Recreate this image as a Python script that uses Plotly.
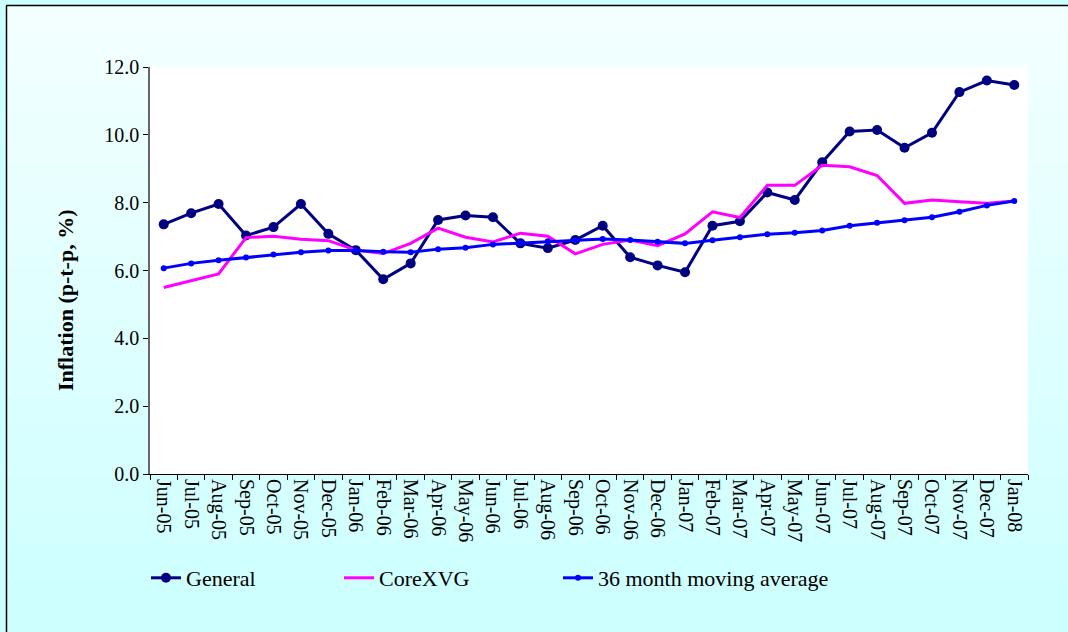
import plotly.graph_objects as go

months = ["Jun-05","Jul-05","Aug-05","Sep-05","Oct-05","Nov-05","Dec-05","Jan-06","Feb-06","Mar-06",
          "Apr-06","May-06","Jun-06","Jul-06","Aug-06","Sep-06","Oct-06","Nov-06","Dec-06","Jan-07",
          "Feb-07","Mar-07","Apr-07","May-07","Jun-07","Jul-07","Aug-07","Sep-07","Oct-07","Nov-07",
          "Dec-07","Jan-08"]

general = [7.36, 7.69, 7.96, 7.03, 7.28, 7.96, 7.08, 6.60, 5.74, 6.21,
           7.49, 7.62, 7.57, 6.80, 6.66, 6.90, 7.32, 6.39, 6.15, 5.95,
           7.32, 7.45, 8.30, 8.08, 9.19, 10.10, 10.14, 9.62, 10.06, 11.26,
           11.60, 11.47]

core = [5.50, 5.69, 5.90, 6.97, 7.01, 6.92, 6.88, 6.60, 6.50, 6.80,
        7.25, 6.98, 6.84, 7.10, 7.01, 6.49, 6.77, 6.90, 6.73, 7.08,
        7.73, 7.56, 8.51, 8.51, 9.10, 9.06, 8.80, 7.98, 8.08, 8.03,
        7.98, 8.05]

ma36 = [6.07, 6.21, 6.30, 6.38, 6.47, 6.54, 6.59, 6.59, 6.55, 6.54,
        6.63, 6.67, 6.77, 6.81, 6.86, 6.89, 6.93, 6.90, 6.85, 6.80,
        6.89, 6.98, 7.07, 7.11, 7.18, 7.32, 7.41, 7.48, 7.57, 7.73,
        7.92, 8.05]

yticks = [0, 2, 4, 6, 8, 10, 12]
y_title = "Inflation (p-t-p, %)"

FONT = "Liberation Serif"

fig = go.Figure()
fig.add_trace(go.Scatter(x=months, y=general, name="General", mode="lines+markers",
                         line=dict(color="#000080", width=3),
                         marker=dict(color="#000080", size=10), legend="legend"))
fig.add_trace(go.Scatter(x=months, y=core, name="CoreXVG", mode="lines",
                         line=dict(color="#FF00FF", width=3), legend="legend2"))
fig.add_trace(go.Scatter(x=months, y=ma36, name="36 month moving average", mode="lines+markers",
                         line=dict(color="#0000FF", width=3),
                         marker=dict(color="#0000FF", size=6), legend="legend3"))

W, H = 1068, 632
L, R, T, B = 150, 1028, 67, 474
pw, ph = R - L, B - T
def px_x(p): return (p - L) / pw
def px_y(p): return (B - p) / ph

shapes = []
n = 24
top_c = (244, 255, 255)
bot_c = (204, 255, 255)
for i in range(n):
    y0p = 6 + (H - 6) * i / n
    y1p = min(H, 6 + (H - 6) * (i + 1) / n + 1)
    f = (i + 0.5) / n
    c = tuple(round(top_c[k] + (bot_c[k] - top_c[k]) * f) for k in range(3))
    shapes.append(dict(type="rect", xref="paper", yref="paper", layer="below",
                       x0=px_x(6), x1=px_x(W), y0=px_y(y1p), y1=px_y(y0p),
                       fillcolor="rgb(%d,%d,%d)" % c, line=dict(width=0)))
shapes.append(dict(type="rect", xref="paper", yref="paper", layer="below",
                   x0=0, x1=1, y0=0, y1=1, fillcolor="white", line=dict(width=0)))
shapes.append(dict(type="line", xref="paper", yref="paper", x0=px_x(6.5), x1=px_x(6.5),
                   y0=px_y(6), y1=px_y(H), line=dict(color="black", width=1.5)))
shapes.append(dict(type="line", xref="paper", yref="paper", x0=px_x(6), x1=px_x(W),
                   y0=px_y(5.5), y1=px_y(5.5), line=dict(color="black", width=1.5)))

legend_common = dict(orientation="h", yanchor="middle", xanchor="left",
                     bgcolor="rgba(0,0,0,0)", font=dict(family=FONT, size=22, color="black"))

fig.update_layout(
    width=W, height=H,
    margin=dict(l=L, r=W - R, t=T, b=H - B),
    paper_bgcolor="#CCFFFF",
    plot_bgcolor="white",
    shapes=shapes,
    showlegend=True,
    font=dict(family=FONT, color="black"),
    legend=dict(x=px_x(146), y=px_y(578), **legend_common),
    legend2=dict(x=px_x(339), y=px_y(578), **legend_common),
    legend3=dict(x=px_x(558), y=px_y(578), **legend_common),
    xaxis=dict(type="category", tickangle=90, tickson="boundaries", ticks="outside", ticklen=5,
               tickcolor="black", showline=True, linecolor="black", linewidth=1,
               showgrid=False, zeroline=False, tickfont=dict(family=FONT, size=20, color="black"),
               range=[-0.5, len(months) - 0.5]),
    yaxis=dict(range=[0, 12], tickvals=yticks, tickformat=".1f", ticks="outside", ticklen=5,
               tickcolor="black", showline=True, linecolor="#666666", linewidth=1.5,
               showgrid=False, zeroline=False, tickfont=dict(family=FONT, size=20, color="black")),
    annotations=[dict(text="<b>" + y_title + "</b>", xref="paper", yref="paper",
                      x=px_x(65), y=px_y(300), textangle=-90, showarrow=False,
                      xanchor="center", yanchor="middle",
                      font=dict(family=FONT, size=22, color="black"))],
)

fig.write_html("out.html", config={"displayModeBar": False},
               post_script="document.body.style.margin='0';document.body.style.overflow='hidden';document.documentElement.style.overflow='hidden';")
